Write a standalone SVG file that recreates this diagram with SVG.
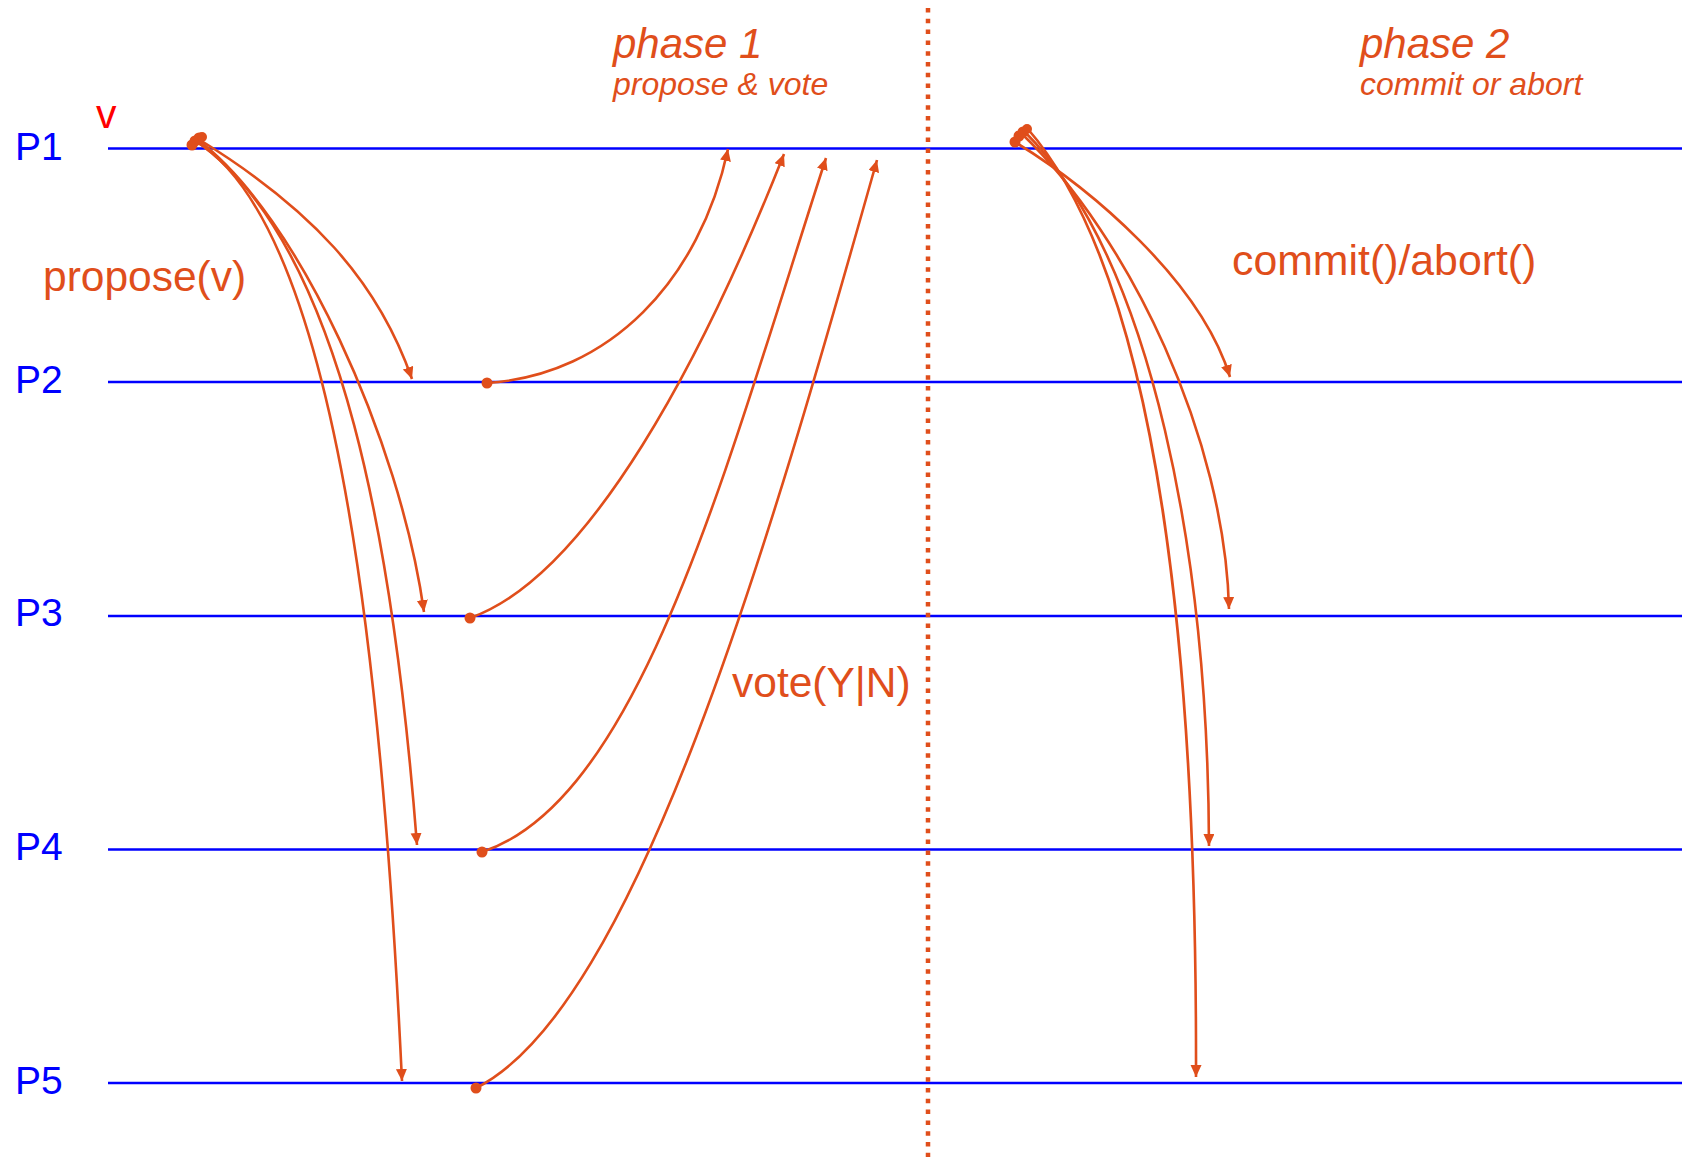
<svg xmlns="http://www.w3.org/2000/svg" width="1682" height="1157" viewBox="0 0 1682 1157">
<style>
.proc{fill:#0000FF;font-family:"Liberation Sans",Arial,sans-serif;font-size:39px}
.pl{stroke:#0000FF;stroke-width:2.5;fill:none}
.lbl{fill:#E04E1B;font-family:"Liberation Sans",Arial,sans-serif}
.it{font-style:italic}
.msg{stroke:#E04E1B;stroke-width:2.6;fill:none;marker-end:url(#ah)}
.dot{fill:#E04E1B}
</style>
<defs>
<marker id="ah" markerUnits="userSpaceOnUse" markerWidth="13" markerHeight="12" refX="12" refY="5.5" orient="auto">
<path d="M0,0 L12,5.5 L0,11 Z" fill="#E04E1B"/>
</marker>
</defs>
<rect width="1682" height="1157" fill="#FFFFFF"/>

<g id="P1"><text class="proc" x="15" y="160">P1</text><line class="pl" x1="108" y1="148.5" x2="1682" y2="148.5"/></g>
<g id="P2"><text class="proc" x="15" y="393">P2</text><line class="pl" x1="108" y1="382" x2="1682" y2="382"/></g>
<g id="P3"><text class="proc" x="15" y="626">P3</text><line class="pl" x1="108" y1="616" x2="1682" y2="616"/></g>
<g id="P4"><text class="proc" x="15" y="860">P4</text><line class="pl" x1="108" y1="849.5" x2="1682" y2="849.5"/></g>
<g id="P5"><text class="proc" x="15" y="1094">P5</text><line class="pl" x1="108" y1="1083" x2="1682" y2="1083"/></g>

<g id="divider"><line x1="928" y1="8" x2="928" y2="1157" stroke="#E04E1B" stroke-width="4.5" stroke-dasharray="4.5 6.3"/></g>

<g id="labels">
<text x="96" y="128" fill="#FF0000" font-family="'Liberation Sans',Arial,sans-serif" font-size="41">v</text>
<text class="lbl it" x="613" y="58" font-size="42">phase 1</text>
<text class="lbl it" x="613" y="95" font-size="32">propose &amp; vote</text>
<text class="lbl it" x="1360" y="58" font-size="42">phase 2</text>
<text class="lbl it" x="1360" y="95" font-size="32">commit or abort</text>
<text class="lbl" x="43" y="291" font-size="42.5">propose(v)</text>
<text class="lbl" x="732" y="697" font-size="42.5">vote(Y|N)</text>
<text class="lbl" x="1232" y="275" font-size="42.8">commit()/abort()</text>
</g>

<g id="connectors">
<!-- propose -->
<path class="msg" d="M200,140 C310,208 377,279 412,379"/>
<path class="msg" d="M198,140 C298,215 400,440 424,612"/>
<path class="msg" d="M196,141 C345,245 395,560 417,845"/>
<path class="msg" d="M195,141 C345,230 385,720 402,1081"/>
<!-- vote -->
<path class="msg" d="M487,383 C610,375 700,280 728,149"/>
<path class="msg" d="M470,618 C590,576 705,354 784,154"/>
<path class="msg" d="M482,852 C640,800 725,470 826,158"/>
<path class="msg" d="M476,1088 C636,1008 770,540 877,160"/>
<!-- commit/abort -->
<path class="msg" d="M1015,142 C1090,188 1200,280 1230,377"/>
<path class="msg" d="M1021,133 C1131,238 1225,440 1229,609"/>
<path class="msg" d="M1024,131 C1154,261 1208,560 1209,846"/>
<path class="msg" d="M1027,128 C1167,288 1197,700 1196,1077"/>
</g>

<g id="dots">
<circle class="dot" cx="192" cy="145" r="5.5"/>
<circle class="dot" cx="195" cy="141" r="5.5"/>
<circle class="dot" cx="199" cy="138" r="5.5"/>
<circle class="dot" cx="202" cy="137" r="5"/>
<circle class="dot" cx="487" cy="383" r="5.5"/>
<circle class="dot" cx="470" cy="618" r="5.5"/>
<circle class="dot" cx="482" cy="852" r="5.5"/>
<circle class="dot" cx="476" cy="1088" r="5.5"/>
<circle class="dot" cx="1015" cy="142" r="5.5"/>
<circle class="dot" cx="1019" cy="136" r="5.5"/>
<circle class="dot" cx="1023" cy="132" r="5.5"/>
<circle class="dot" cx="1027" cy="129" r="5"/>
</g>
</svg>
